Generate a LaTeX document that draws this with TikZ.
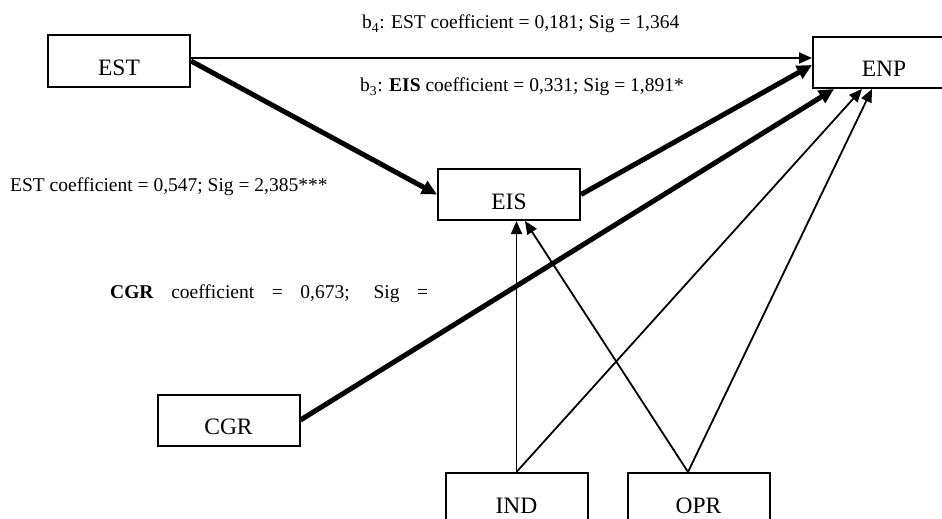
\documentclass[tikz,border=0pt]{standalone}
\usepackage{fontspec}
\setmainfont{Liberation Serif}
\usetikzlibrary{arrows.meta}
\begin{document}
\begin{tikzpicture}[x=1pt, y=-1pt,
  box/.style={draw, line width=2pt, minimum width=142pt, minimum height=51pt, inner sep=0pt,
    text height=29pt, text depth=0pt, font=\fontsize{23.5}{28}\selectfont},
  lbl/.style={anchor=base west, inner sep=0pt, font=\fontsize{19.5}{23}\selectfont},
  thinarr/.style={line width=1.8pt, -{Triangle[length=13pt,width=11pt]}},
  thickarr/.style={line width=5pt, -{Triangle[length=15pt,width=14pt]}}]
  \useasboundingbox (0,0) rectangle (942,519);
  \foreach \n/\p in {EST/{119,61}, ENP/{884,62.5}, EIS/{509,194.5}, CGR/{228.5,420},
                      IND/{516.5,498.5}, OPR/{698.5,498.5}}
    \node[box] (\n) at (\p) {\n};
  \coordinate (OPRtop) at ([xshift=-10.5pt]OPR.north);
  % paths
  \draw[thinarr] ([yshift=3pt]EST.east) -- ([yshift=3pt]EST.east -| ENP.west);
  \draw[thickarr] (EST.east) -- (EIS.west);
  \draw[thickarr] (EIS.east) -- ([yshift=-2.5pt]ENP.west);
  \draw[thickarr] (CGR.east) -- ([xshift=22pt]ENP.south west);
  \draw[thinarr] (IND.north) -- (IND.north |- EIS.south);
  \draw[thinarr] (IND.north) -- ([xshift=50pt]ENP.south west);
  \draw[thinarr] (OPRtop) -- ([xshift=16pt]EIS.south);
  \draw[thinarr] (OPRtop) -- ([xshift=60pt]ENP.south west);
  % labels
  \node[lbl] (b4) at (362,29) {b\textsubscript{4}: EST coefficient = 0,181; Sig = 1,364};
  \node[lbl] (b3) at (360,92) {b\textsubscript{3}: \textbf{EIS} coefficient = 0,331; Sig = 1,891*};
  \node[lbl] (estc) at (10,191) {EST coefficient = 0,547; Sig = 2,385***};
  \node[lbl] (cgrc) at (110,298) {\makebox[318pt][s]{\textbf{CGR} coefficient = 0,673; Sig =}};
\end{tikzpicture}
\end{document}
